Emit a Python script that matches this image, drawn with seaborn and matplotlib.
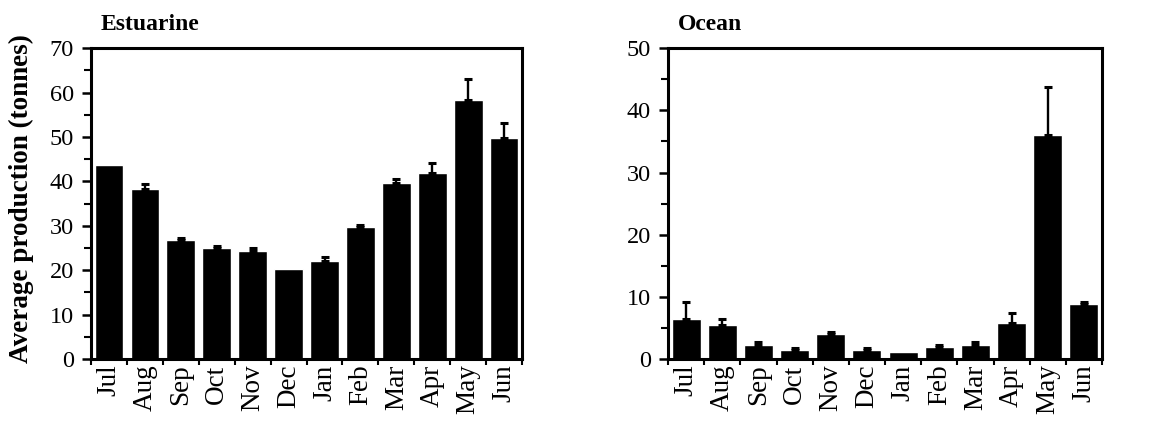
"""Average monthly production, estuarine vs ocean."""

import numpy as np
import pandas as pd
import matplotlib
matplotlib.use("Agg")
import matplotlib.pyplot as plt
from matplotlib.ticker import MultipleLocator, FixedLocator
import seaborn as sns

months = ["Jul", "Aug", "Sep", "Oct", "Nov", "Dec",
          "Jan", "Feb", "Mar", "Apr", "May", "Jun"]

estuarine_mean = [43.7, 38.2, 26.8, 24.9, 24.3, 20.2,
                  22.0, 29.8, 39.6, 42.0, 58.3, 49.8]
estuarine_err = [0.0, 1.2, 0.5, 0.6, 0.6, 0.0,
                 1.0, 0.4, 0.9, 2.2, 4.7, 3.4]

ocean_mean = [6.5, 5.4, 2.3, 1.45, 4.1, 1.45,
              1.07, 1.9, 2.3, 5.8, 36.0, 8.8]
ocean_err = [2.6, 1.1, 0.4, 0.35, 0.3, 0.35,
             0.0, 0.3, 0.4, 1.6, 7.7, 0.4]

sns.set_style("ticks")
plt.rcParams["font.family"] = ["Liberation Serif", "DejaVu Serif"]
plt.rcParams.update({"text.color": "black", "axes.labelcolor": "black",
                     "xtick.color": "black", "ytick.color": "black"})


def draw_panel(ax, means, errs, title, ymax, major):
    df = pd.DataFrame({"month": months, "value": means})
    sns.barplot(data=df, x="month", y="value", color="black",
                width=0.8, saturation=1, errorbar=None, ax=ax)

    # upper error bars only, skip months without one
    x = np.arange(len(months))
    means = np.asarray(means)
    errs = np.asarray(errs)
    has_err = errs > 0
    ax.errorbar(x[has_err], means[has_err],
                yerr=[np.zeros(has_err.sum()), errs[has_err]], fmt="none",
                ecolor="black", elinewidth=1.7, capsize=3, capthick=2.2)

    ax.set_xlim(-0.5, len(months) - 0.5)
    ax.set_ylim(0, ymax)
    ax.yaxis.set_major_locator(MultipleLocator(major))
    ax.yaxis.set_minor_locator(MultipleLocator(major / 2))

    # category boundaries carry the tick marks, labels sit at bar centres
    ax.set_xticks(x)
    ax.set_xticklabels(months, rotation=90, fontsize=19.5)
    ax.tick_params(axis="x", length=0, pad=4)
    ax.xaxis.set_minor_locator(FixedLocator(np.arange(-0.5, len(months), 1.0)))
    ax.tick_params(axis="x", which="minor", length=4, width=1.5, direction="out")

    ax.tick_params(axis="y", which="major", length=6.5, width=1.8,
                   labelsize=17.5, pad=6)
    ax.tick_params(axis="y", which="minor", length=5, width=1.5)

    for side in ["left", "right", "top", "bottom"]:
        ax.spines[side].set_visible(True)
        ax.spines[side].set_linewidth(2.2)
        ax.spines[side].set_color("black")

    ax.set_xlabel("")
    ax.set_ylabel("")
    ax.text(0.023, 1.075, title, transform=ax.transAxes, fontsize=17,
            fontweight="bold", ha="left", va="center")


fig = plt.figure(figsize=(11.57, 4.30), dpi=100)
ax1 = fig.add_axes([0.0787, 0.165, 0.3725, 0.723])
ax2 = fig.add_axes([0.5774, 0.165, 0.3751, 0.723])

draw_panel(ax1, estuarine_mean, estuarine_err, "Estuarine", 70, 10)
draw_panel(ax2, ocean_mean, ocean_err, "Ocean", 50, 10)

ax1.set_ylabel("Average production (tonnes)", fontsize=19.5, fontweight="bold")
ax1.yaxis.set_label_coords(-0.133, 0.516)

fig.savefig("out.png", dpi=100, facecolor="white")
